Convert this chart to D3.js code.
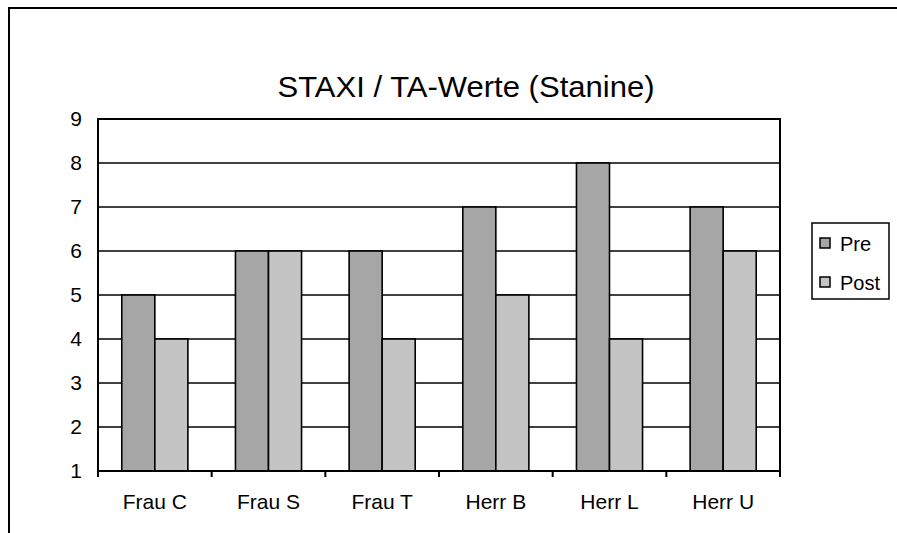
<!DOCTYPE html>
<html>
<head>
<meta charset="utf-8">
<script src="https://cdn.jsdelivr.net/npm/d3@7"></script>
<style>
  body { margin: 0; background: #fff; overflow: hidden; }
  svg { display: block; }
  text { font-family: "Liberation Sans", Arial, sans-serif; fill: #000; }
</style>
</head>
<body>
<div id="chart"></div>
<script>
const categories = ["Frau C", "Frau S", "Frau T", "Herr B", "Herr L", "Herr U"];
const seriesNames = ["Pre", "Post"];
const preValues = [5, 6, 6, 7, 8, 7];
const postValues = [4, 6, 4, 5, 4, 6];
const yTicks = [1, 2, 3, 4, 5, 6, 7, 8, 9];
const title = "STAXI / TA-Werte (Stanine)";

const width = 897, height = 533;
const plot = { left: 98, top: 119, right: 780, bottom: 471 };
const colors = { Pre: "#a6a6a6", Post: "#c4c4c4" };

const svg = d3.select("#chart").append("svg")
  .attr("width", width)
  .attr("height", height);

// outer chart frame (runs off the right and bottom edge)
svg.append("rect")
  .attr("x", 9).attr("y", 8)
  .attr("width", 920).attr("height", 560)
  .attr("fill", "#fff")
  .attr("stroke", "#000")
  .attr("stroke-width", 2);

svg.append("text")
  .attr("x", 466).attr("y", 97)
  .attr("text-anchor", "middle")
  .attr("textLength", 377)
  .attr("lengthAdjust", "spacingAndGlyphs")
  .style("font-size", "29px")
  .text(title);

const x = d3.scaleBand()
  .domain(categories)
  .range([plot.left, plot.right]);

const x1 = d3.scaleBand()
  .domain(seriesNames)
  .range([0, x.bandwidth()])
  .paddingInner(0)
  .paddingOuter(0.72);

const y = d3.scaleLinear()
  .domain([1, 9])
  .range([plot.bottom, plot.top]);

// gridlines
svg.append("g")
  .selectAll("line")
  .data(yTicks.slice(1, -1))
  .enter()
  .append("line")
  .attr("x1", plot.left).attr("x2", plot.right)
  .attr("y1", d => y(d)).attr("y2", d => y(d))
  .attr("stroke", "#000")
  .attr("stroke-width", 1.6);

const rows = categories.map((c, i) => ({ cat: c, Pre: preValues[i], Post: postValues[i] }));

svg.append("g")
  .selectAll("g")
  .data(rows)
  .enter()
  .append("g")
  .attr("transform", d => "translate(" + x(d.cat) + ",0)")
  .selectAll("rect")
  .data(d => seriesNames.map(s => ({ key: s, value: d[s] })))
  .enter()
  .append("rect")
  .attr("x", d => x1(d.key))
  .attr("width", x1.bandwidth())
  .attr("y", d => y(d.value))
  .attr("height", d => y(1) - y(d.value))
  .attr("fill", d => colors[d.key])
  .attr("stroke", "#000")
  .attr("stroke-width", 1.6);

// plot frame
svg.append("rect")
  .attr("x", plot.left).attr("y", plot.top)
  .attr("width", plot.right - plot.left)
  .attr("height", plot.bottom - plot.top)
  .attr("fill", "none")
  .attr("stroke", "#000")
  .attr("stroke-width", 2);

// y axis labels
const yAxis = svg.append("g")
  .attr("transform", "translate(" + plot.left + ",0)")
  .call(d3.axisLeft(y).tickValues(yTicks).tickFormat(d3.format("d")).tickSize(0).tickPadding(16));
yAxis.select(".domain").remove();
yAxis.selectAll("text")
  .style("font-size", "21px")
  .style("font-family", "Liberation Sans, Arial, sans-serif")
  .attr("fill", "#000");

// x axis with ticks at category boundaries
const xAxis = svg.append("g")
  .attr("transform", "translate(0," + plot.bottom + ")")
  .call(d3.axisBottom(x).tickSize(0).tickPadding(23));
xAxis.select(".domain").remove();
xAxis.selectAll("text")
  .style("font-size", "21px")
  .style("font-family", "Liberation Sans, Arial, sans-serif")
  .attr("fill", "#000");

svg.append("g")
  .selectAll("line")
  .data(categories.map(c => x(c)).concat([plot.right]))
  .enter()
  .append("line")
  .attr("x1", d => d).attr("x2", d => d)
  .attr("y1", plot.bottom).attr("y2", plot.bottom + 6)
  .attr("stroke", "#000")
  .attr("stroke-width", 2);

// legend
const legend = svg.append("g");
legend.append("rect")
  .attr("x", 812).attr("y", 223)
  .attr("width", 77).attr("height", 76)
  .attr("fill", "#fff")
  .attr("stroke", "#000")
  .attr("stroke-width", 1.5);

const items = legend.selectAll("g.item")
  .data(seriesNames)
  .enter()
  .append("g")
  .attr("class", "item")
  .attr("transform", (d, i) => "translate(820," + (238 + i * 39) + ")");

items.append("rect")
  .attr("width", 10).attr("height", 10)
  .attr("fill", d => colors[d])
  .attr("stroke", "#000")
  .attr("stroke-width", 1.5);

items.append("text")
  .attr("x", 20).attr("y", 13)
  .style("font-size", "20px")
  .text(d => d);
</script>
</body>
</html>
